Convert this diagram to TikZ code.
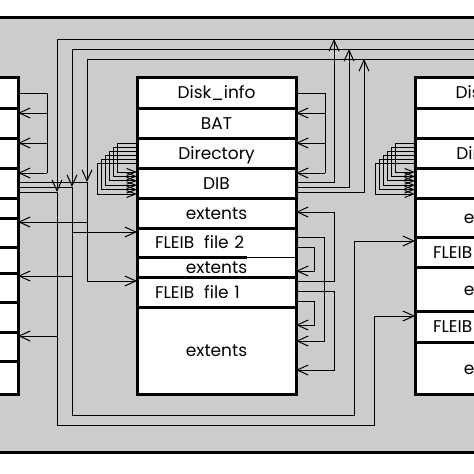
\documentclass[tikz,border=0pt]{standalone}
\usepackage{fontspec}
\setmainfont{Poppins}
\usetikzlibrary{arrows.meta,positioning}
\tikzset{
  field/.style={draw,line width=3pt,fill=white,minimum width=159pt,inner sep=0pt,outer sep=0pt,
    text height=12pt,text depth=0pt,font=\fontsize{17pt}{20pt}\selectfont},
  fleib/.style={field,align=left,text width=123pt},
  link/.style={line width=1pt},
  ptr/.style={link,-{Straight Barb[length=11pt,width=10pt]}},
  tick/.style={link,-{Straight Barb[length=9pt,width=7pt]}},
}
\begin{document}
\begin{tikzpicture}[x=1pt,y=-1pt]
\useasboundingbox (0,0) rectangle (474,474);
\clip (0,0) rectangle (474,474);
% shaded frame
\fill[black!20] (-5,17) rectangle (479,452);
\draw[line width=3pt] (-5,17) -- (479,17) (-5,452) -- (479,452);

% left block, only its right edge is in view
\coordinate (l0) at (-61.5,77);
\foreach \h [count=\i, remember=\i as \j (initially 0)] in {31,30,30,30,20,29,26,29,30,29,33}
  \node[field,minimum height=\h pt,below=0pt of l\j] (l\i) {};

% middle block
\node[field,minimum height=31pt,anchor=north] (disk) at (216.5,77) {Disk\_info};
\node[field,minimum height=30pt,below=0pt of disk] (bat) {BAT};
\node[field,minimum height=30pt,below=0pt of bat] (dir) {Directory};
\node[field,minimum height=30pt,below=0pt of dir] (dib) {DIB};
\node[field,minimum height=30pt,below=0pt of dib] (ext) {extents};
\node[fleib,minimum height=29pt,below=0pt of ext] (fl2) {FLEIB\hspace{10pt}file 2};
\node[field,minimum height=20pt,below=0pt of fl2] (ext2) {extents};
\node[fleib,minimum height=30pt,below=0pt of ext2] (fl1) {FLEIB\hspace{10pt}file 1};
\node[field,minimum height=87pt,below=0pt of fl1] (ext1) {extents};
\draw[white,line width=3pt] (247,257) -- (294.5,257);
\draw[link] (247,257) -- (296,257);

% right block
\node[field,minimum height=31pt,anchor=north] (rdisk) at (494.5,77) {Disk\_info};
\node[field,minimum height=30pt,below=0pt of rdisk] (rbat) {};
\node[field,minimum height=30pt,below=0pt of rbat] (rdir) {Directory};
\node[field,minimum height=30pt,below=0pt of rdir] (rdib) {};
\node[field,minimum height=39pt,below=0pt of rdib] (rext) {extents};
\node[fleib,minimum height=30pt,below=0pt of rext] (rfl2) {FLEIB};
\node[field,minimum height=44pt,below=0pt of rfl2] (rext2) {extents};
\node[fleib,minimum height=31pt,below=0pt of rext2] (rfl1) {FLEIB};
\node[field,minimum height=52pt,below=0pt of rfl1] (rext1) {extents};

% Directory -> DIB steps
\foreach \i in {0,...,5}{
  \draw[tick] (dir.west |- 0,143+4*\i) -| (117-4*\i,172+4.4*\i) -- (dib.west |- 0,172+4.4*\i);
  \draw[tick] (rdir.west |- 0,143+4*\i) -| (395-4*\i,172+4.4*\i) -- (rdib.west |- 0,172+4.4*\i);
}

% Disk_info loops
\draw[link] (disk.east |- 0,93) -| (325,173);
\draw[link] (l1.east |- 0,93) -| (47,173);
\foreach \y/\m/\l in {113/bat/l2,143/dir/l3,173/dib/l4}{
  \draw[ptr] (325,\y) -- (\m.east |- 0,\y);
  \draw[ptr] (47,\y) -- (\l.east |- 0,\y);
}

% DIB links over the top
\foreach \y/\x/\t in {182/334/39,187/349/49,192/364/59}
  \draw[ptr] (dib.east |- 0,\y) -| (\x,\t);
\foreach \y/\x/\t in {182/87/59,187/72/49,192/57/39}{
  \draw[link] (l4.east |- 0,\y) -- (\x,\y);
  \draw[ptr] (480,\t) -| (\x,\y);
}

% FLEIB chains
\draw[ptr] (87,182) |- (fl1.west |- 0,281);
\draw[ptr] (87,222) -- (l6.east |- 0,222);
\draw[ptr] (72,187) |- (354,415) |- (rfl2.west |- 0,241);
\draw[ptr] (72,232) -- (fl2.west |- 0,232);
\draw[ptr] (72,276) -- (l8.east |- 0,276);
\draw[ptr] (57,192) |- (374,425) |- (rfl1.west |- 0,316);
\draw[ptr] (57,336) -- (l10.east |- 0,336);

% FLEIB -> extents
\draw[ptr] (fl1.east |- 0,281) -| (334,212) -- (ext.east |- 0,212);
\draw[ptr] (fl1.east |- 0,291) -| (334,370) -- (ext1.east |- 0,370);
\draw[ptr] (fl1.east |- 0,301) -| (314,325) -- (ext1.east |- 0,325);
\draw[ptr] (fl2.east |- 0,237) -| (324,341) -- (ext1.east |- 0,341);
\draw[ptr] (fl2.east |- 0,247) -| (314,271) -- (ext2.east |- 0,271);
\end{tikzpicture}
\end{document}
